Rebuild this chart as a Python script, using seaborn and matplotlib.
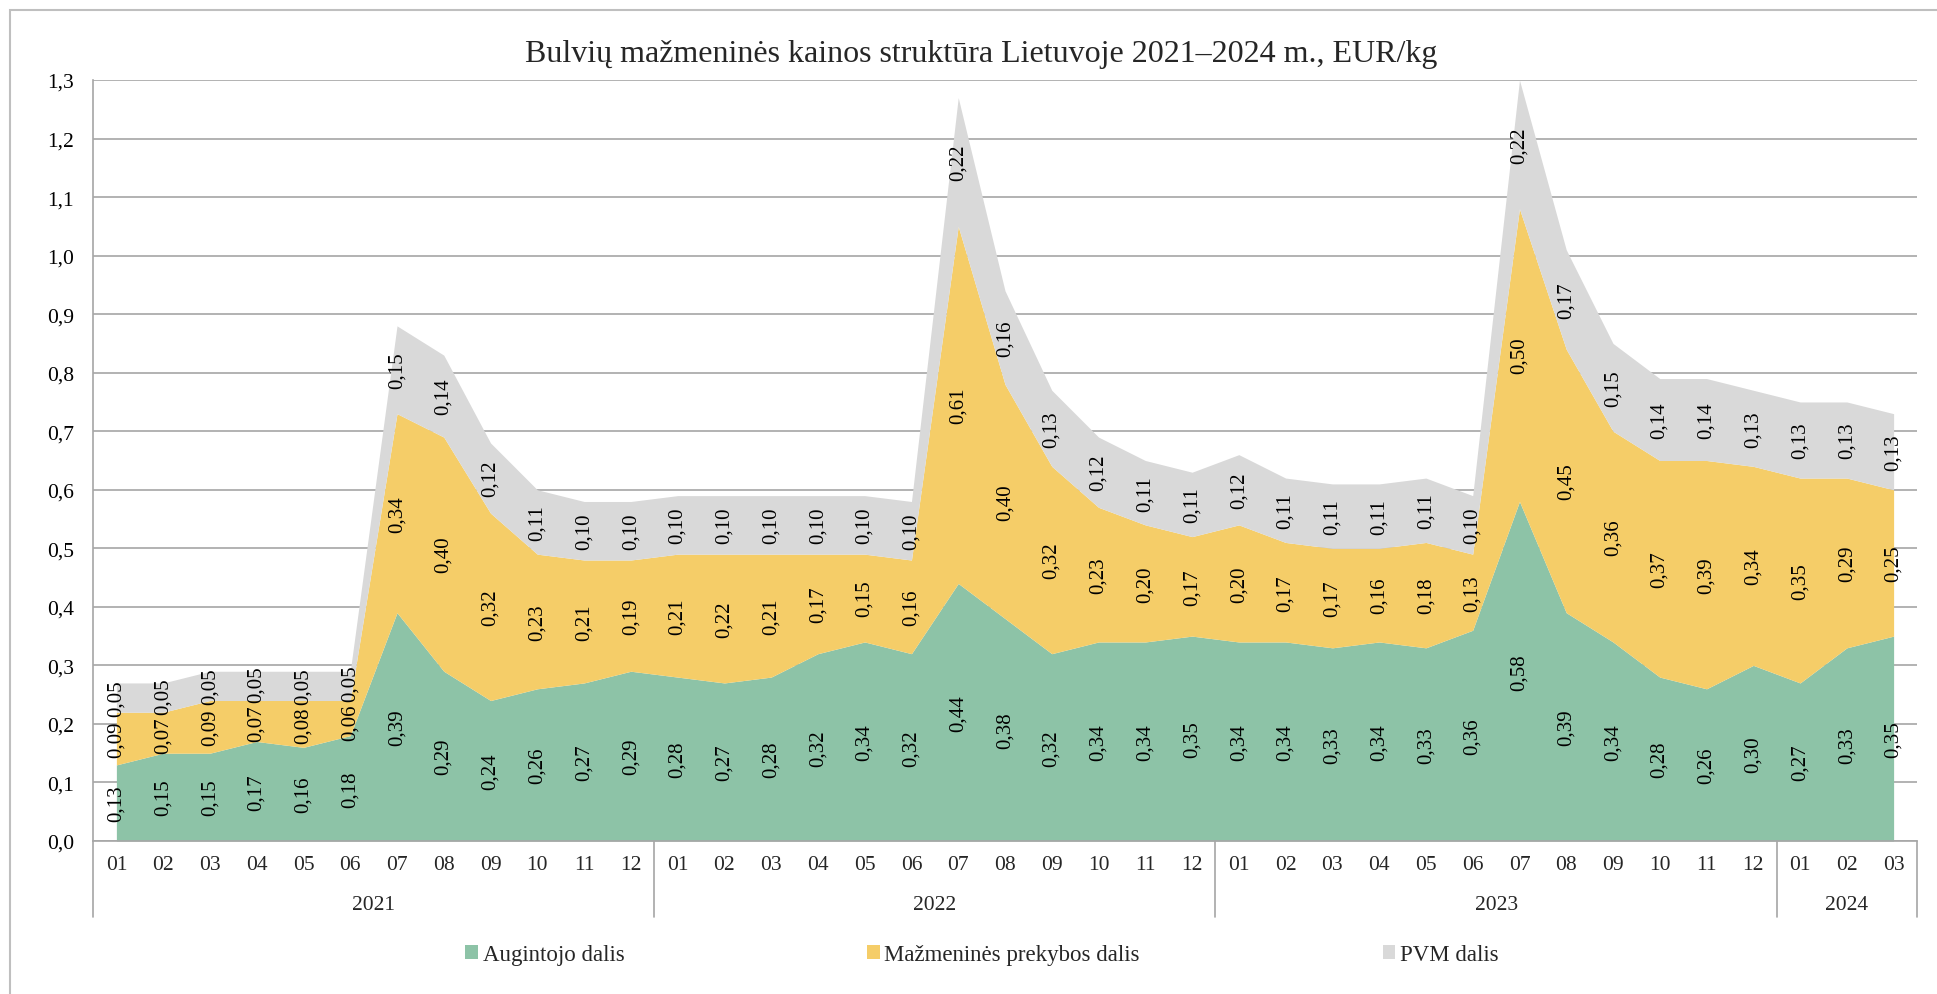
import numpy as np
import pandas as pd
import seaborn as sns
import matplotlib
matplotlib.use("Agg")
import matplotlib.pyplot as plt
from matplotlib.patches import Patch, Rectangle
from matplotlib.transforms import blended_transform_factory
from matplotlib.lines import Line2D

# ---- data ----
years = ["2021", "2022", "2023", "2024"]
months_per_year = [12, 12, 12, 3]
month_labels = ([f"{m:02d}" for m in range(1, 13)] * 3) + ["01", "02", "03"]

augintojo = [0.13, 0.15, 0.15, 0.17, 0.16, 0.18, 0.39, 0.29, 0.24, 0.26, 0.27, 0.29,
             0.28, 0.27, 0.28, 0.32, 0.34, 0.32, 0.44, 0.38, 0.32, 0.34, 0.34, 0.35,
             0.34, 0.34, 0.33, 0.34, 0.33, 0.36, 0.58, 0.39, 0.34, 0.28, 0.26, 0.30,
             0.27, 0.33, 0.35]
mazmenines = [0.09, 0.07, 0.09, 0.07, 0.08, 0.06, 0.34, 0.40, 0.32, 0.23, 0.21, 0.19,
              0.21, 0.22, 0.21, 0.17, 0.15, 0.16, 0.61, 0.40, 0.32, 0.23, 0.20, 0.17,
              0.20, 0.17, 0.17, 0.16, 0.18, 0.13, 0.50, 0.45, 0.36, 0.37, 0.39, 0.34,
              0.35, 0.29, 0.25]
pvm = [0.05, 0.05, 0.05, 0.05, 0.05, 0.05, 0.15, 0.14, 0.12, 0.11, 0.10, 0.10,
       0.10, 0.10, 0.10, 0.10, 0.10, 0.10, 0.22, 0.16, 0.13, 0.12, 0.11, 0.11,
       0.12, 0.11, 0.11, 0.11, 0.11, 0.10, 0.22, 0.17, 0.15, 0.14, 0.14, 0.13,
       0.13, 0.13, 0.13]

series_names = ["Augintojo dalis", "Mažmeninės prekybos dalis", "PVM dalis"]
colors = ["#8DC3A7", "#F5CD68", "#D9D9D9"]

title = "Bulvių mažmeninės kainos struktūra Lietuvoje 2021–2024 m., EUR/kg"

# ---- style ----
sns.set_theme(style="white")
plt.rcParams["font.family"] = ["Liberation Serif", "DejaVu Serif"]

W, H = 1937, 995
fig = plt.figure(figsize=(W / 100, H / 100), dpi=100)
ax = fig.add_axes([93 / W, 1 - 842 / H, (1917 - 93) / W, (842 - 81) / H])

df = pd.DataFrame({"idx": np.arange(len(augintojo)),
                   series_names[0]: augintojo,
                   series_names[1]: mazmenines,
                   series_names[2]: pvm})
x = df["idx"].values
vals = [df[n].values for n in series_names]

ax.stackplot(x, *vals, colors=colors, linewidth=0, zorder=2)

# gridlines
grid_c = "#A6A6A6"
ax.set_ylim(0, 1.3)
ax.set_xlim(-0.5, len(x) - 0.5)
yt = np.round(np.arange(0, 1.31, 0.1), 1)
ax.set_yticks(yt)
ax.set_yticklabels([f"{v:.1f}".replace(".", ",") for v in yt], fontsize=15.5)
ax.yaxis.grid(True, color=grid_c, linewidth=1.2, zorder=1)
ax.set_axisbelow(True)
ax.tick_params(axis="y", length=0, pad=13.5, colors="black")

ax.set_xticks(x)
ax.set_xticklabels(month_labels, fontsize=15.5)
ax.tick_params(axis="x", length=0, pad=10)

for s in ["top", "right"]:
    ax.spines[s].set_visible(False)
for s in ["left", "bottom"]:
    ax.spines[s].set_color(grid_c)
    ax.spines[s].set_linewidth(1.2)
ax.spines["bottom"].set_zorder(3)

# data labels (centered in each band, nudged apart where they would collide)
min_gap = 0.067  # label length in data units at this font size, plus margin
stack = np.vstack(vals)
cum = np.cumsum(stack, axis=0)
for j, xi in enumerate(x):
    centers = list(cum[:, j] - stack[:, j] / 2)
    for i in range(1, len(centers)):
        gap = centers[i] - centers[i - 1]
        if gap < min_gap:
            d = (min_gap - gap) / 2
            centers[i] += d
            centers[i - 1] -= d
    for i, c in enumerate(centers):
        ax.text(xi, c, f"{stack[i, j]:.2f}".replace(".", ","), rotation=90,
                ha="center", va="center", fontsize=15, color="black", zorder=4)

# year group labels & separators
trans = blended_transform_factory(ax.transData, ax.transAxes)
ax_h = 842 - 81
sep_bottom = -(918 - 842) / ax_h
year_y = -(906 - 842) / ax_h
start = 0
bounds = [-0.5]
for yr, n in zip(years, months_per_year):
    center = start + (n - 1) / 2
    ax.text(center, year_y, yr, transform=trans, ha="center", va="center", fontsize=15.5)
    start += n
    bounds.append(start - 0.5)
for b in bounds:
    ax.add_line(Line2D([b, b], [0, sep_bottom], transform=trans, color=grid_c,
                       linewidth=1.2, clip_on=False))

# title
fig.text(981 / W, 1 - 62 / H, title, ha="center", va="baseline", fontsize=23)

# legend
handles = [Patch(facecolor=c, edgecolor="none", label=n) for c, n in zip(colors, series_names)]
fig.legend(handles=handles, loc="center", bbox_to_anchor=(982 / W, 1 - 956 / H), ncol=3,
           frameon=False, fontsize=16.5, handlelength=0.55, handleheight=0.55,
           handletextpad=0.2, columnspacing=10.6)

# outer border
fig.patches.append(Rectangle((10 / W, -0.1), 1.2, 1 - 11 / H + 0.1, transform=fig.transFigure,
                             fill=False, edgecolor="#BFBFBF", linewidth=1.5))

fig.savefig("out.png", dpi=100)
